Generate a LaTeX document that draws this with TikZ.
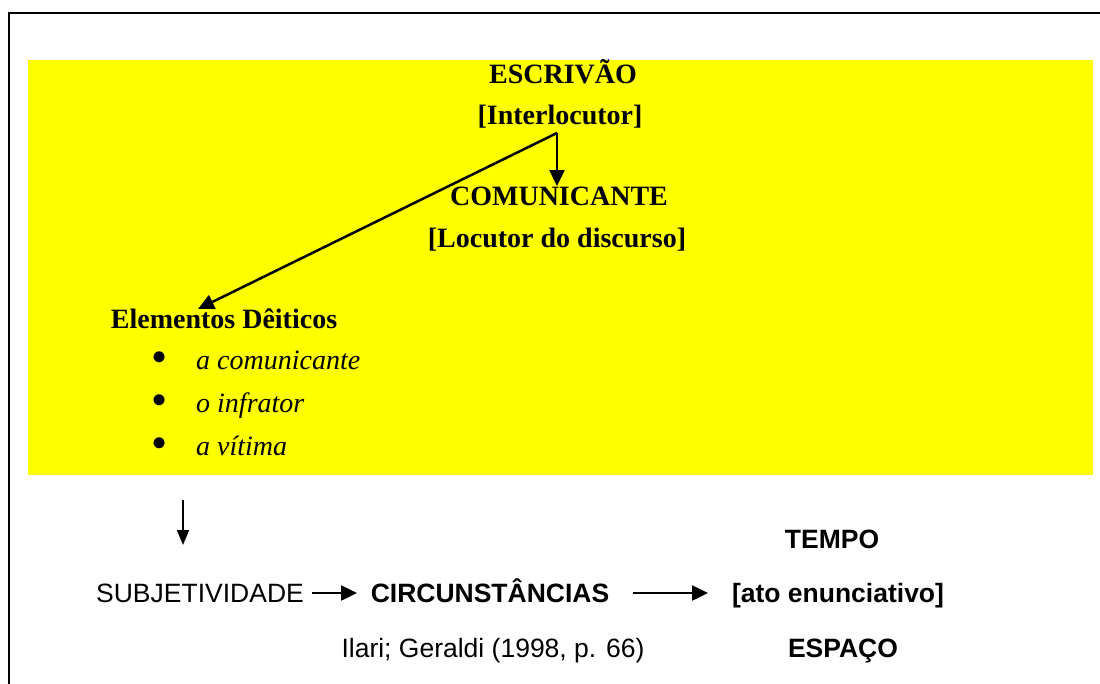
\documentclass[tikz,border=0pt]{standalone}
\usepackage{fontspec}
\setmainfont{Liberation Serif}
\setsansfont{Liberation Sans}
\usetikzlibrary{arrows.meta}
\definecolor{ylw}{RGB}{255,255,0}
\begin{document}
\begin{tikzpicture}[x=1pt,y=-1pt,
  serifb/.style={font=\fontsize{28}{30}\selectfont\bfseries, inner sep=0pt, anchor=base},
  serifi/.style={font=\fontsize{28}{30}\selectfont\itshape, inner sep=0pt, anchor=base west},
  bul/.style={font=\fontsize{46}{48}\selectfont, inner sep=0pt, anchor=center},
  sansn/.style={font=\sffamily\fontsize{26.5}{28}\selectfont, inner sep=0pt, anchor=base},
  sansb/.style={font=\sffamily\bfseries\fontsize{26.5}{28}\selectfont, inner sep=0pt, anchor=base},
  arr/.style={line width=2.5pt, -{Triangle[length=16pt,width=15pt]}},
  arrthin/.style={line width=1.8pt, -{Triangle[length=15pt,width=12pt]}},
]
\useasboundingbox (0,0) rectangle (1100,683);
\fill[ylw] (28,60) rectangle (1093,475);
\draw[line width=2.2pt] (9,684) -- (9,13) -- (1100,13);

% top part
\node[serifb] (escr) at (563,83) {ESCRIVÃO};
\node[serifb] (inter) at (560,124) {[Interlocutor]};
\node[serifb] (com) at (559,205) {COMUNICANTE};
\node[serifb] (loc) at (557,247) {[Locutor do discurso]};
\node[serifb] (elem) at (224,328) {Elementos Dêiticos};

\node[bul] (b1) at (160,362) {\textbullet};
\node[bul] (b2) at (160,405) {\textbullet};
\node[bul] (b3) at (160,448) {\textbullet};
\node[serifi] (i1) at (196,369) {a comunicante};
\node[serifi] (i2) at (196,412) {o infrator};
\node[serifi] (i3) at (196,455) {a vítima};

\coordinate (split) at (557,133);
\coordinate (comtip) at (557,186);
\coordinate (elemtip) at (198,309);
\draw[arr] (split) -- (comtip);
\draw[arr] (split) -- (elemtip);

% bottom part
\node[sansn] (subj) at (200,602) {SUBJETIVIDADE};
\node[sansb] (circ) at (490,602) {CIRCUNSTÂNCIAS};
\node[sansb] (ato) at (838,602) {[ato enunciativo]};
\node[sansb] (tempo) at (832,548) {TEMPO};
\node[sansb] (espaco) at (843,657) {ESPAÇO};
\node[sansn] (ilari) at (493,657) {Ilari; Geraldi (1998, p. 66)};

\coordinate (d1) at (183,500);
\coordinate (d2) at (183,545);
\draw[arrthin] (d1) -- (d2);

\coordinate (a1s) at (312,593);
\coordinate (a1e) at (357,593);
\coordinate (a2s) at (633,593);
\coordinate (a2e) at (708,593);
\draw[arr] (a1s) -- (a1e);
\draw[arr] (a2s) -- (a2e);
\end{tikzpicture}
\end{document}
